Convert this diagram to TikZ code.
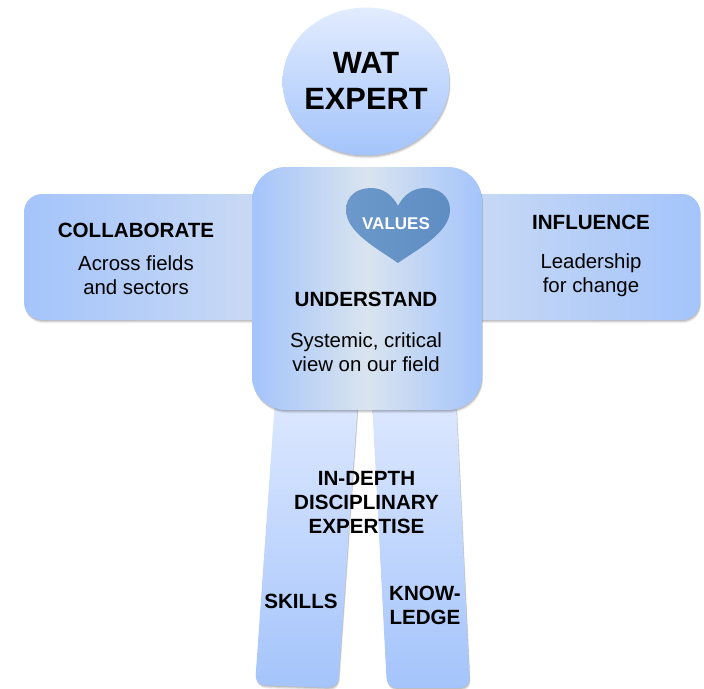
\documentclass[tikz,border=0pt]{standalone}
\usepackage{fontspec}
\setmainfont{Liberation Sans}
\usetikzlibrary{shapes.geometric}
\definecolor{bluedeep}{HTML}{A4C4FB}
\definecolor{bluelight}{HTML}{E2ECFF}
\definecolor{legtop}{HTML}{DDE8FF}
\definecolor{armlight}{HTML}{CDDCF3}
\definecolor{torsomid}{HTML}{D9E4EF}
\definecolor{heartl}{HTML}{6C99CA}
\definecolor{heartr}{HTML}{5F8DC3}
\tikzset{
  softshadow/.style={
    preaction={fill=black,opacity=.07,transform canvas={shift={(1pt,-3pt)}}},
    preaction={fill=black,opacity=.09,transform canvas={shift={(.7pt,-2pt)}}},
    preaction={fill=black,opacity=.12,transform canvas={shift={(.4pt,-1pt)}}}},
  head/.style={ellipse,softshadow,top color=bluelight,bottom color=bluedeep,inner sep=0pt,minimum width=167pt,minimum height=148pt},
  limb/.style={softshadow,top color=legtop,bottom color=bluedeep,rounded corners=10pt},
  armbox/.style={softshadow,rounded corners=18pt,minimum width=261pt,minimum height=126pt,inner sep=0pt},
  labelbold/.style={font=\bfseries\fontsize{20.6}{24}\selectfont,align=center,inner sep=0pt,text=black},
  labelreg/.style={font=\fontsize{20.4}{24}\selectfont,align=center,inner sep=0pt,text=black}
}
\begin{document}
\begin{tikzpicture}[x=1pt,y=-1pt]
\useasboundingbox (0,0) rectangle (704,688);
% legs
\path[limb] (275,400) -- (358,400) -- (338,688) -- (255,685) -- cycle;
\path[limb] (372,400) -- (456,400) -- (470,688) -- (387,688) -- cycle;
% arms
\node[armbox,left color=bluedeep,right color=armlight] (armL) at (154.5,257) {};
\node[armbox,left color=armlight,right color=bluedeep] (armR) at (569.5,257) {};
% torso
\node[softshadow,rounded corners=34pt,left color=bluedeep,right color=bluedeep,middle color=torsomid,minimum width=230pt,minimum height=243pt,inner sep=0pt] (torso) at (367,288.5) {};
% head
\node[head] (headN) at (366,81.5) {};
% heart
\path[left color=heartl,right color=heartr]
  (398,263) .. controls (380,250) and (346,233) .. (346,210)
  .. controls (346,196) and (357,188) .. (371,188)
  .. controls (384,188) and (393,196) .. (398,206)
  .. controls (403,196) and (412,188) .. (425,188)
  .. controls (439,188) and (450,196) .. (450,210)
  .. controls (450,233) and (416,250) .. (398,263) -- cycle;
% text
\node[font=\bfseries\fontsize{30.8}{36}\selectfont,align=center,inner sep=0pt] (title) at (366,80.5) {WAT\\EXPERT};
\node[font=\bfseries\fontsize{17}{20}\selectfont,text=white,inner sep=0pt] (values) at (396,223.5) {VALUES};
\node[labelbold] (collab) at (136,230.5) {COLLABORATE};
\node[labelreg] (collabT) at (136,275.5) {Across fields\\and sectors};
\node[labelbold] (infl) at (591,222.5) {INFLUENCE};
\node[labelreg] (inflT) at (591,275.5) {Leadership\\for change};
\node[labelbold] (under) at (366,299.5) {UNDERSTAND};
\node[labelreg] (underT) at (366,352.5) {Systemic, critical\\view on our field};
\node[labelbold] (depth) at (366.5,502.5) {IN-DEPTH\\DISCIPLINARY\\EXPERTISE};
\node[labelbold] (skills) at (301,601.5) {SKILLS};
\node[labelbold] (know) at (425,605) {KNOW-\\LEDGE};
\end{tikzpicture}
\end{document}
